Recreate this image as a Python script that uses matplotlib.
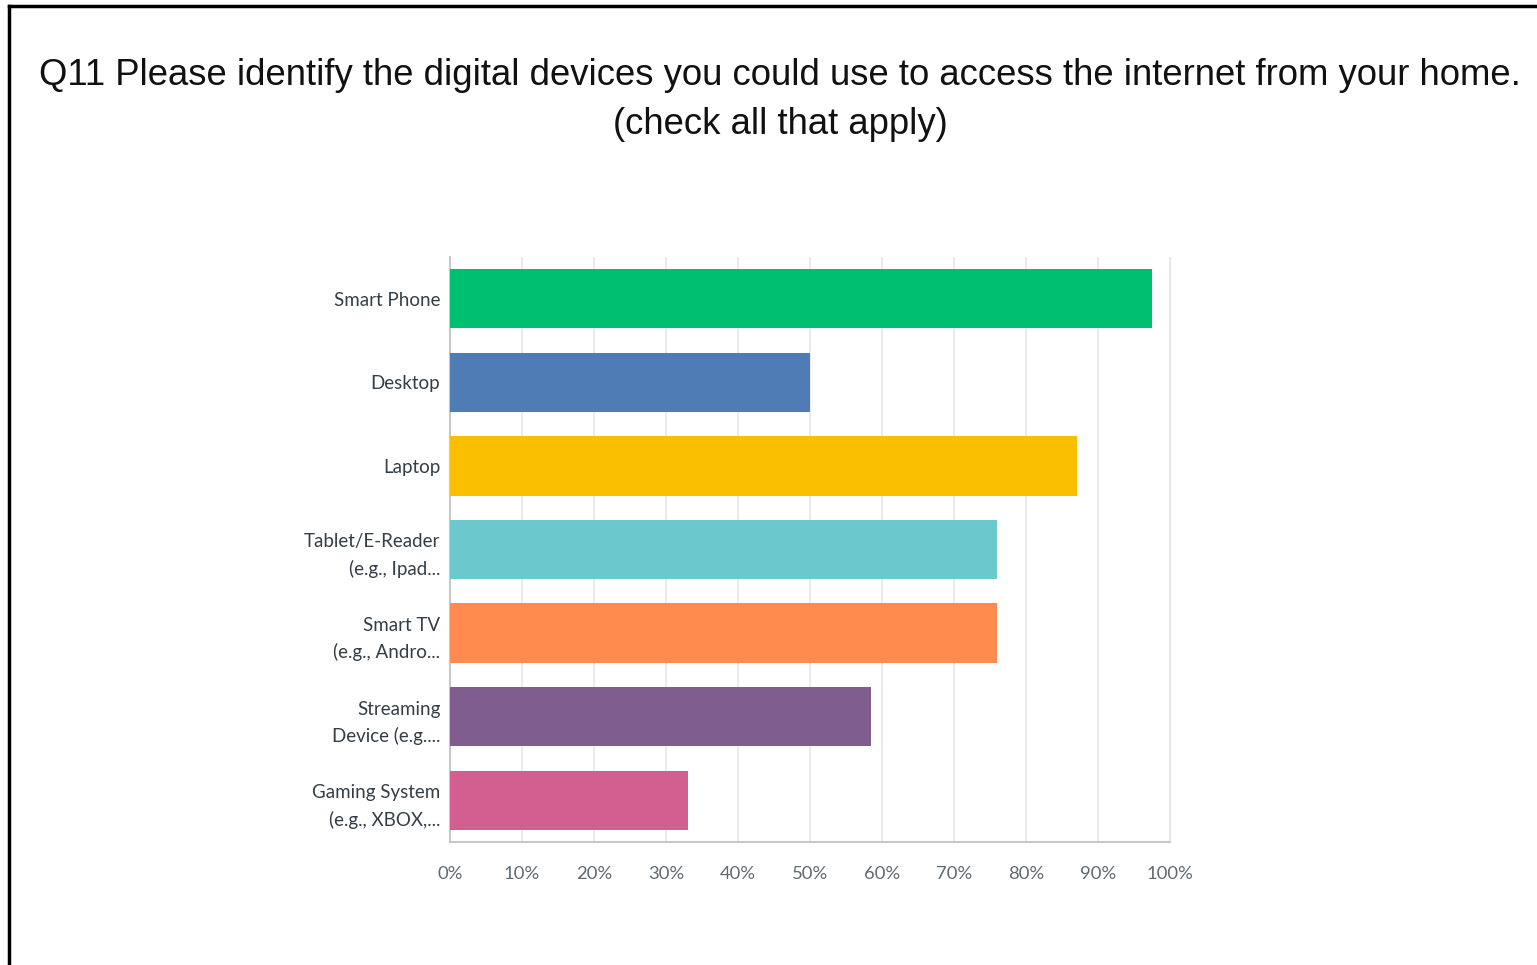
import matplotlib.pyplot as plt
from matplotlib.lines import Line2D

title = ("Q11 Please identify the digital devices you could use to access the internet from your home.\n"
         "(check all that apply)")
devices = [
    "Smart Phone",
    "Desktop",
    "Laptop",
    "Tablet/E-Reader\n(e.g., Ipad...",
    "Smart TV\n(e.g., Andro...",
    "Streaming\nDevice (e.g....",
    "Gaming System\n(e.g., XBOX,...",
]
percent = [97.5, 50.0, 87.1, 76.0, 76.0, 58.5, 33.1]
colors = ["#00bf6f", "#507cb6", "#f9be00", "#6bc8cd", "#ff8b4f", "#7f5e8f", "#d25f90"]
xticks = list(range(0, 101, 10))
xticklabels = [f"{t}%" for t in xticks]


def main():
    fig = plt.figure(figsize=(15.37, 9.65), dpi=100)

    # frame around the whole panel (only top and left edges are visible)
    fig.add_artist(Line2D([9 / 1537, 9 / 1537], [0, 1 - 6 / 965], transform=fig.transFigure,
                          color="black", lw=2.5))
    fig.add_artist(Line2D([9 / 1537, 1], [1 - 6 / 965, 1 - 6 / 965], transform=fig.transFigure,
                          color="black", lw=2.5))

    fig.text(0.5075, 1 - 100 / 965, title, ha="center", va="center", fontsize=26.3,
             family="Liberation Sans", color="#111111", linespacing=1.5)

    ax = fig.add_axes([450 / 1537, 1 - 842 / 965, 720 / 1537, 585 / 965])
    y = list(range(len(devices)))
    ax.barh(y, percent, height=0.71, color=colors, zorder=3)

    ax.set_xlim(0, 100)
    ax.set_ylim(len(devices) - 0.5, -0.5)
    ax.set_xticks(xticks)
    ax.set_xticklabels(xticklabels, family="Lato", fontsize=13.3, color="#5f6b73")
    ax.set_yticks(y)
    ax.set_yticklabels(devices, family="Lato", fontsize=13.5, color="#333e48",
                       ha="right", linespacing=1.62)
    ax.tick_params(axis="both", length=0)
    ax.tick_params(axis="x", pad=17)
    ax.tick_params(axis="y", pad=7)

    ax.grid(axis="x", color="#e6e6e6", lw=1.2, zorder=0)
    ax.spines["top"].set_visible(False)
    ax.spines["right"].set_color("#e6e6e6")
    ax.spines["left"].set_color("#c8c8c8")
    ax.spines["bottom"].set_color("#c8c8c8")
    ax.spines["left"].set_linewidth(1.5)
    ax.spines["bottom"].set_linewidth(1.5)

    fig.savefig("out.png", dpi=100, facecolor="white")


if __name__ == "__main__":
    main()
